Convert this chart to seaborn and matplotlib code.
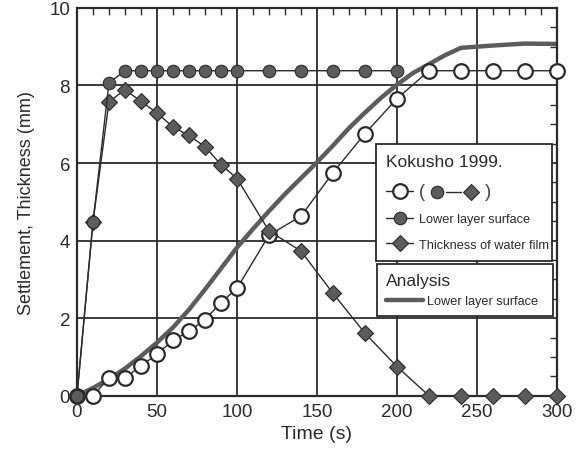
import matplotlib
matplotlib.use("Agg")
import matplotlib.pyplot as plt
from matplotlib.lines import Line2D
from matplotlib.ticker import MultipleLocator
from matplotlib.transforms import IdentityTransform
import seaborn as sns

# Kokusho 1999 measurements: upper surface (open circles)
t_upper = [0, 10, 20, 30, 40, 50, 60, 70, 80, 90, 100, 120, 140, 160, 180, 200,
           220, 240, 260, 280, 300]
s_upper = [0.0, 0.0, 0.46, 0.46, 0.77, 1.07, 1.43, 1.66, 1.96, 2.40, 2.77, 4.14,
           4.63, 5.75, 6.76, 7.66, 8.38, 8.38, 8.38, 8.38, 8.38]

# Lower layer surface (filled circles)
t_lower = [0, 10, 20, 30, 40, 50, 60, 70, 80, 90, 100, 120, 140, 160, 180, 200]
s_lower = [0.0, 4.48, 8.07, 8.38, 8.38, 8.38, 8.38, 8.38, 8.38, 8.38, 8.38, 8.38,
           8.38, 8.38, 8.38, 8.38]

# Thickness of water film (diamonds)
t_film = [0, 10, 20, 30, 40, 50, 60, 70, 80, 90, 100, 120, 140, 160, 180, 200,
          220, 240, 260, 280, 300]
h_film = [0.0, 4.48, 7.58, 7.89, 7.59, 7.29, 6.93, 6.71, 6.42, 5.96, 5.60, 4.25,
          3.73, 2.64, 1.61, 0.75, 0.0, 0.0, 0.0, 0.0, 0.0]

# Analysis: lower layer surface
t_anal = [0, 10, 20, 30, 40, 50, 60, 70, 80, 90, 100, 110, 120, 130, 140, 150,
          160, 170, 180, 190, 200, 210, 220, 230, 240, 260, 280, 300]
s_anal = [0.0, 0.20, 0.43, 0.70, 1.02, 1.37, 1.76, 2.22, 2.74, 3.28, 3.82, 4.30,
          4.76, 5.20, 5.61, 6.02, 6.45, 6.90, 7.30, 7.68, 8.02, 8.32, 8.55, 8.78,
          8.97, 9.03, 9.08, 9.07]

x_ticks = [0, 50, 100, 150, 200, 250, 300]
y_ticks = [0, 2, 4, 6, 8, 10]

sns.set_style("white")
plt.rcParams["font.family"] = ["Liberation Sans", "DejaVu Sans"]

INK = "#2b2b2b"
GRAY = "#5c5c5c"

open_style = dict(marker="o", markersize=10.5, markerfacecolor="white",
                  markeredgecolor=INK, markeredgewidth=1.6)
dot_style = dict(marker="o", markersize=9, markerfacecolor=GRAY,
                 markeredgecolor=INK, markeredgewidth=0.8)
dia_style = dict(marker="D", markersize=8.3, markerfacecolor=GRAY,
                 markeredgecolor=INK, markeredgewidth=0.8)

fig = plt.figure(figsize=(5.85, 4.52), dpi=100)
ax = fig.add_axes([0.1316, 0.1223, 0.8205, 0.858])

# grid first so that data sit on top
for xv in x_ticks[1:-1]:
    ax.axvline(xv, color=INK, lw=1.3, zorder=1)
for yv in y_ticks[1:-1]:
    ax.axhline(yv, color=INK, lw=1.3, zorder=1)

sns.lineplot(x=t_anal, y=s_anal, ax=ax, color=GRAY, lw=3.2, sort=False,
             estimator=None, zorder=3)
sns.lineplot(x=t_upper, y=s_upper, ax=ax, color=INK, lw=1.0, sort=False,
             estimator=None, zorder=8.5, clip_on=False, **open_style)
sns.lineplot(x=t_film, y=h_film, ax=ax, color=INK, lw=1.0, sort=False,
             estimator=None, zorder=8.6, clip_on=False, **dia_style)
sns.lineplot(x=t_lower, y=s_lower, ax=ax, color=INK, lw=1.0, sort=False,
             estimator=None, zorder=8.7, clip_on=False, **dot_style)

ax.set_xlim(0, 300)
ax.set_ylim(0, 10)
ax.set_xticks(x_ticks)
ax.set_yticks(y_ticks)
ax.xaxis.set_minor_locator(MultipleLocator(10))
ax.yaxis.set_minor_locator(MultipleLocator(0.5))
ax.tick_params(which="both", direction="in", top=True, right=True, colors=INK,
               labelcolor=INK)
ax.tick_params(which="major", length=0, labelsize=13.5, pad=5)
ax.tick_params(which="minor", length=5, width=1.0)
for sp in ax.spines.values():
    sp.set_color(INK)
    sp.set_linewidth(1.6)
    sp.set_zorder(7)

ax.set_xlabel("Time (s)", fontsize=14, color=INK, labelpad=4)
ax.set_ylabel("Settlement, Thickness (mm)", fontsize=13, color=INK, labelpad=10)

entry_font = {"family": ["Liberation Sans", "DejaVu Sans"], "size": 9.2}

h_upper = Line2D([], [], color=INK, lw=1.0, **open_style)
h_lower = Line2D([], [], color=INK, lw=1.0, **dot_style)
h_film = Line2D([], [], color=INK, lw=1.0, **dia_style)
leg1 = ax.legend([h_upper, h_lower, h_film],
                 ["(" + " " * 12 + ")", "Lower layer surface",
                  "Thickness of water film"],
                 title="Kokusho 1999.", loc="upper left",
                 bbox_to_anchor=(0.623, 0.0, 0.3667, 0.649), mode="expand",
                 borderaxespad=0, prop=entry_font,
                 title_fontsize=12.5, handlelength=2.1, handletextpad=0.45,
                 labelspacing=1.05, borderpad=0.8, frameon=True, fancybox=False,
                 edgecolor=INK, framealpha=1)
leg1._legend_box.align = "left"
leg1.get_frame().set_linewidth(1.3)
paren = leg1.get_texts()[0]
paren.set_fontsize(13)
paren.set_color("#404040")
for tx in leg1.get_texts()[1:]:
    tx.set_color(INK)
leg1.get_title().set_color(INK)
leg1.set_zorder(9)
ax.add_artist(leg1)

h_anal = Line2D([], [], color=GRAY, lw=3.2)
leg2 = ax.legend([h_anal], ["Lower layer surface"], title="Analysis",
                 loc="upper left", bbox_to_anchor=(0.625, 0.0, 0.3667, 0.340),
                 mode="expand", borderaxespad=0, prop=entry_font,
                 title_fontsize=12.5, handlelength=2.9, handletextpad=0.3,
                 borderpad=0.7, labelspacing=0.6, frameon=True, fancybox=False,
                 edgecolor=INK, framealpha=1)
leg2._legend_box.align = "left"
leg2.get_frame().set_linewidth(1.3)
leg2.get_texts()[0].set_color(INK)
leg2.get_title().set_color(INK)
leg2.set_zorder(9)

# symbols inside the parentheses of the first legend entry: (●—◆)
fig.canvas.draw()
bb = paren.get_window_extent()
yc = 0.5 * (bb.y0 + bb.y1) - 0.5
x0 = bb.x0
w = bb.width
sym_kw = dict(transform=IdentityTransform(), zorder=10)
fig.add_artist(Line2D([x0 + 0.38 * w, x0 + 0.58 * w], [yc, yc], color=INK,
                      lw=1.0, **sym_kw))
fig.add_artist(Line2D([x0 + 0.25 * w], [yc], ls="none", **dot_style, **sym_kw))
fig.add_artist(Line2D([x0 + 0.72 * w], [yc], ls="none", **dia_style, **sym_kw))

fig.savefig("out.png", dpi=100)
